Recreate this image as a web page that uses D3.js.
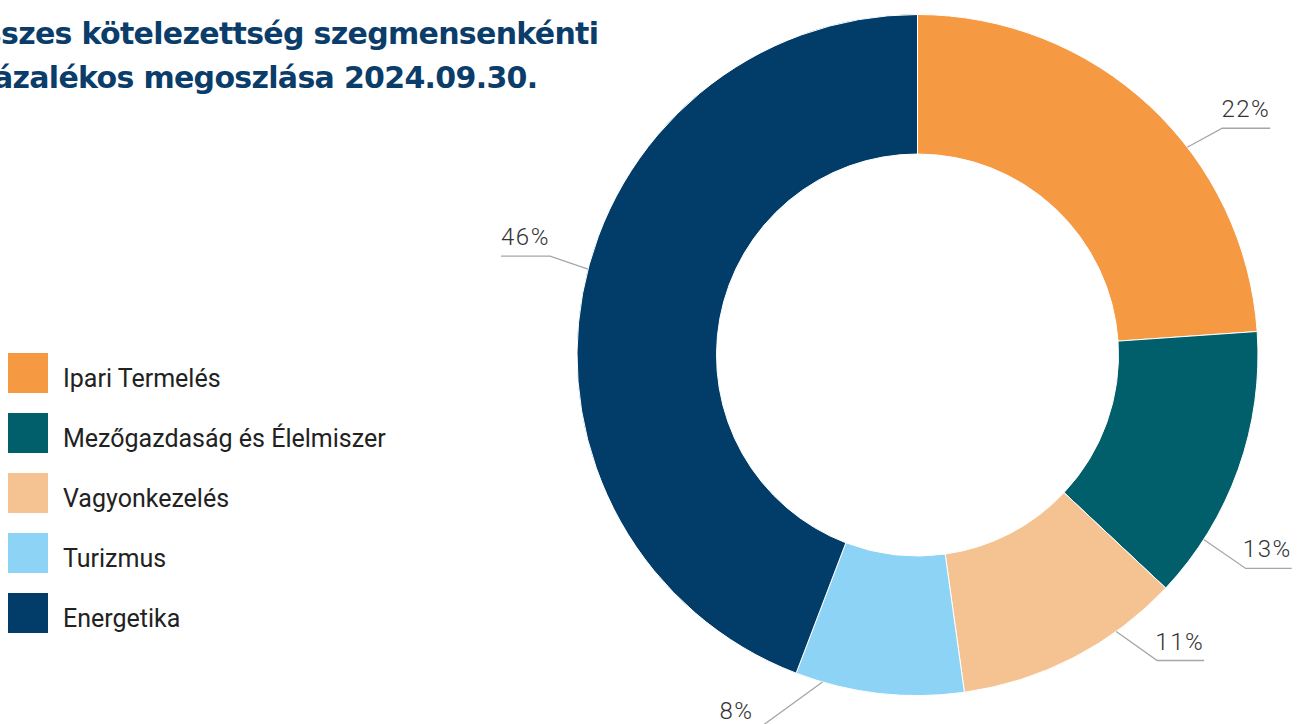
<!DOCTYPE html>
<html><head><meta charset="utf-8">
<script src="https://cdn.jsdelivr.net/npm/d3@7"></script>
<style>body{margin:0;background:#fff;overflow:hidden}svg{display:block}</style>
</head><body>
<svg id="c" width="1303" height="724"></svg>
<script>
const categories = ["Ipari Termelés","Mezőgazdaság és Élelmiszer","Vagyonkezelés","Turizmus","Energetika"];
const values = [23.9, 13.1, 10.8, 8.0, 44.2];
const valueLabels = ["22%","13%","11%","8%","46%"];
const colors = ["#F59943","#015F6C","#F5C292","#8DD3F5","#023D6A"];
const titleLines = ["Összes kötelezettség szegmensenkénti","százalékos megoszlása 2024.09.30."];

// layout for leader lines: angle (deg) where line leaves ring, elbow offset, horizontal length
const leaderLayout = [
  {a:52.4, dx:35, dy:-19, h:48},
  {a:122.8, dx:42, dy:29, h:46},
  {a:144.3, dx:41, dy:29, h:47},
  {a:196.2, dx:-66, dy:48, h:-37},
  {a:284.6, dx:-38, dy:-13, h:-49}
];

const svg = d3.select("#c");
const cx = 917.5, cy = 355, R = 340.5, r = 201;
const g = svg.append("g").attr("transform",`translate(${cx},${cy})`);
const pie = d3.pie().sort(null).value(d=>d)(values);
const arc = d3.arc().innerRadius(r).outerRadius(R);
g.selectAll("path").data(pie).join("path")
  .attr("d",arc).attr("fill",(d,i)=>colors[i])
  .attr("stroke","#fff").attr("stroke-width",1);

// leader lines and labels
pie.forEach((d,i)=>{
  const L = leaderLayout[i];
  const t = L.a*Math.PI/180;
  const x0 = R*Math.sin(t), y0 = -R*Math.cos(t);
  const x1 = x0+L.dx, y1 = y0+L.dy, x2 = x1+L.h;
  g.append("polyline").attr("points",`${x0},${y0} ${x1},${y1} ${x2},${y1}`)
    .attr("fill","none").attr("stroke","#a6a6a6").attr("stroke-width",1.3);
  g.append("text").attr("x",x2).attr("y",y1-11)
    .attr("text-anchor",L.h>0?"end":"start")
    .attr("font-family","Roboto, 'Open Sans', sans-serif").attr("font-weight",300)
    .attr("letter-spacing",1.5)
    .attr("font-size",24).attr("fill","#333").text(valueLabels[i]);
});

// title: spaced so that the visible part of line 1 spans to x=602
const tg = svg.append("g");
const mk = (s,y)=>tg.append("text").attr("y",y).attr("font-family","'DejaVu Sans', sans-serif")
  .attr("font-weight",700).attr("font-size",30).attr("fill","#0B3D6B").text(s);
const t1 = mk(titleLines[0],44).attr("x",0);
const n1 = titleLines[0].length;
const base = t1.node().getComputedTextLength();
const pre = t1.node().getSubStringLength(0,2);
const ls = (640 - base)/(n1-1);
t1.attr("letter-spacing",ls);
const off = pre + 2*ls; // start of "szes"
const tx = -off + 1;
t1.attr("x",tx);
mk(titleLines[1],88).attr("letter-spacing",ls).attr("x",tx);

// legend
const lg = svg.append("g").attr("transform","translate(8,353)");
categories.forEach((c,i)=>{
  lg.append("rect").attr("x",0).attr("y",i*60).attr("width",40).attr("height",40).attr("fill",colors[i]);
  lg.append("text").attr("x",55).attr("y",i*60+34).attr("font-family","Roboto, sans-serif")
    .attr("font-size",25).attr("fill","#222").text(c);
});
</script>
</body></html>
